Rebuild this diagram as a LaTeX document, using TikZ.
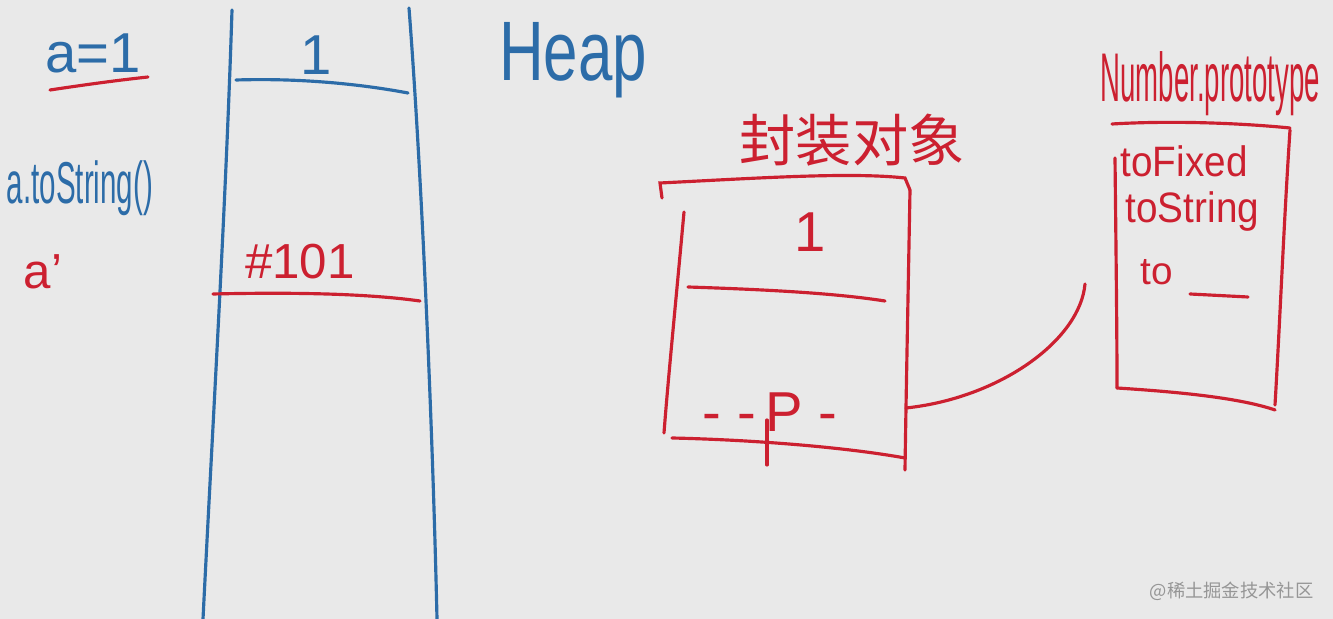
\documentclass[tikz,border=0pt]{standalone}
\usepackage{fontspec}
\setmainfont{Liberation Sans}
\newfontfamily\cjk{Noto Sans CJK SC}
\definecolor{board}{RGB}{233,233,233}
\definecolor{penblue}{RGB}{44,108,168}
\definecolor{penred}{RGB}{204,32,48}
\definecolor{markgray}{RGB}{150,150,150}

\begin{document}
\begin{tikzpicture}[x=0.01cm, y=-0.01cm, line cap=round,
  blueline/.style={penblue, line width=0.9pt},
  redline/.style={penred, line width=0.9pt},
  bluetext/.style={penblue, inner sep=0},
  redtext/.style={penred, inner sep=0}]
\fill[board] (0,0) rectangle (1333,619);
\useasboundingbox (0,0) rectangle (1333,619);

% stack
\draw[blueline] (232,10) .. controls (226,200) and (214,400) .. (203,619);
\draw[blueline] (409,8) .. controls (420,150) and (432,400) .. (437,619);
\draw[blueline] (236,80) .. controls (300,78) and (360,84) .. (408,93);
\draw[redline] (213,294) .. controls (300,292) and (370,294) .. (420,301);
\node[bluetext, font=\fontsize{16}{16}\selectfont] (one) at (316,55) {1};
\node[redtext, font=\fontsize{14}{14}\selectfont] (addr) at (300,262) {\#101};

% left labels
\node[bluetext, font=\fontsize{16}{16}\selectfont] (assign) at (93,53) {a=1};
\draw[redline] (50,90) .. controls (90,84) and (120,80) .. (148,77);
\node[bluetext, font=\fontsize{12}{12}\selectfont] (call) at (80,188) {\scalebox{0.7}[1.4]{a.toString()}};
\node[redtext, font=\fontsize{14}{14}\selectfont] (aprime) at (43,272) {a'};
\node[bluetext, font=\fontsize{20}{20}\selectfont] (heap) at (573,60) {\scalebox{0.88}[1.2]{Heap}};

% wrapper object
\node[redtext, font=\cjk\fontsize{16}{16}\selectfont] (wraptitle) at (852,140) {封装对象};
\draw[redline] (662,198) -- (660,183) .. controls (760,178) and (850,172) .. (905,178) -- (910,190);
\draw[redline] (684,212) .. controls (676,300) and (668,380) .. (664,433);
\draw[redline] (910,190) .. controls (908,300) and (906,400) .. (905,470);
\draw[redline] (672,438) .. controls (760,440) and (850,448) .. (905,458);
\draw[redline] (688,287) .. controls (780,290) and (840,294) .. (885,301);
\node[redtext, font=\fontsize{16}{16}\selectfont] (wrapval) at (810,232) {1};
\node[redtext, font=\fontsize{16}{16}\selectfont] (protoref) at (770,412) {- -\,P -};
\draw[redline] (767,420) -- (767,465);
\coordinate (linkstart) at (906,408);
\coordinate (linkend) at (1085,284);
\draw[redline] (linkstart) .. controls (1000,398) and (1080,340) .. (linkend);

% prototype object
\node[redtext, font=\fontsize{14}{14}\selectfont, anchor=west] (protoname) at (1100,84) {\scalebox{0.56}[1.4]{Number.prototype}};
\draw[redline] (1112,124) .. controls (1180,120) and (1250,124) .. (1290,128);
\draw[redline] (1115,158) .. controls (1116,250) and (1117,330) .. (1117,388);
\draw[redline] (1290,130) .. controls (1284,220) and (1280,320) .. (1275,405);
\draw[redline] (1117,388) .. controls (1180,392) and (1240,398) .. (1275,410);
\node[redtext, font=\fontsize{11}{11}\selectfont, anchor=west] (tofixed) at (1120,161) {\scalebox{1}[1.1]{toFixed}};
\node[redtext, font=\fontsize{11}{11}\selectfont, anchor=west] (tostring) at (1125,212) {\scalebox{1}[1.1]{toString}};
\node[redtext, font=\fontsize{11}{11}\selectfont, anchor=west] (toother) at (1140,272) {to};
\draw[redline] (1190,294) -- (1248,297);

% watermark
\node[markgray, font=\cjk\fontsize{5.2}{6}\selectfont, anchor=east, inner sep=0] (mark) at (1314,591) {@稀土掘金技术社区};
\end{tikzpicture}
\end{document}
